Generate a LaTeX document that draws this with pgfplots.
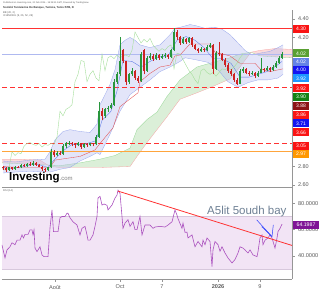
\documentclass[border=0pt]{standalone}
\usepackage{pgfplots}
\pgfplotsset{compat=1.18}
\usepackage{pgfplotstable}
\usepackage{fontspec}
\setmainfont{Liberation Sans}
\setsansfont{Liberation Sans}

\definecolor{upc}{RGB}{40,150,60}
\definecolor{dnc}{RGB}{205,35,35}
\definecolor{axisgray}{RGB}{150,150,150}
\definecolor{tickgray}{RGB}{90,90,90}
\definecolor{hred}{RGB}{255,50,50}
\definecolor{horange}{RGB}{255,165,60}
\definecolor{bbfill}{RGB}{185,190,240}
\definecolor{bbline}{RGB}{150,165,235}
\definecolor{cgreen}{RGB}{195,228,190}
\definecolor{cgreenl}{RGB}{150,215,150}
\definecolor{cred}{RGB}{250,195,195}
\definecolor{credl}{RGB}{245,165,165}
\definecolor{kijun}{RGB}{225,80,80}
\definecolor{tenkan}{RGB}{90,120,230}
\definecolor{chikou}{RGB}{165,222,155}
\definecolor{pline}{RGB}{175,185,240}
\definecolor{rsic}{RGB}{170,80,190}
\definecolor{rsiband}{RGB}{242,228,245}
\definecolor{rsiedge}{RGB}{215,200,220}
\definecolor{rsipurple}{RGB}{128,20,150}
\definecolor{annot}{RGB}{110,128,148}
\definecolor{arrowc}{RGB}{40,60,255}
\definecolor{lgreen}{RGB}{90,160,50}
\definecolor{lperi}{RGB}{100,130,230}
\definecolor{lblue}{RGB}{20,20,240}
\definecolor{lsky}{RGB}{30,150,255}
\definecolor{lred}{RGB}{250,20,20}
\definecolor{ldgreen}{RGB}{20,130,20}
\definecolor{ldred}{RGB}{140,20,20}
\definecolor{lorange}{RGB}{255,152,0}

% rising candles: x open high low close
\pgfplotstableread{
x o h l c
9 2.76 2.80 2.75 2.79
15 2.77 2.81 2.76 2.80
21 2.79 2.83 2.78 2.82
27 2.81 2.84 2.80 2.83
33 2.82 2.86 2.81 2.84
48 2.76 2.80 2.75 2.79
51 2.79 2.99 2.78 2.96
57 2.92 2.97 2.91 2.95
63 2.94 3.04 2.93 3.02
66 3.02 3.07 3.00 3.05
69 3.05 3.08 3.03 3.06
78 3.03 3.07 3.02 3.05
84 3.01 3.05 3.00 3.04
90 3.03 3.06 3.02 3.05
96 3.04 3.14 3.03 3.12
99 3.12 3.50 3.11 3.40
105 3.35 3.44 3.33 3.42
108 3.42 3.46 3.39 3.44
111 3.44 3.49 3.42 3.47
114 3.47 3.75 3.46 3.72
117 3.72 3.83 3.70 3.80
120 3.80 4.20 3.78 3.95
129 3.72 3.82 3.70 3.80
132 3.80 3.87 3.78 3.84
141 3.73 4.04 3.72 4.02
147 3.84 4.00 3.83 3.98
150 3.98 4.03 3.96 4.00
156 3.97 4.03 3.96 4.01
162 3.98 4.02 3.97 4.00
165 4.00 4.03 3.98 4.01
171 3.99 4.08 3.98 4.06
174 4.06 4.30 4.05 4.26
183 4.14 4.20 4.13 4.18
189 4.15 4.21 4.14 4.19
201 4.05 4.10 4.04 4.08
207 4.06 4.12 4.05 4.10
210 4.10 4.14 4.09 4.12
216 3.86 4.05 3.85 4.03
240 3.70 3.86 3.69 3.84
243 3.84 3.88 3.82 3.86
252 3.80 3.84 3.79 3.82
258 3.78 3.84 3.77 3.82
261 3.82 3.98 3.81 3.86
267 3.85 3.89 3.84 3.87
273 3.85 3.90 3.84 3.88
276 3.88 3.94 3.87 3.92
279 3.92 4.00 3.91 3.98
282 3.98 4.04 3.97 4.02
}\upt

% falling candles
\pgfplotstableread{
x o h l c
3 2.80 2.81 2.76 2.78
6 2.78 2.79 2.74 2.76
12 2.79 2.80 2.76 2.77
18 2.80 2.81 2.78 2.79
24 2.82 2.83 2.80 2.81
30 2.83 2.85 2.81 2.82
36 2.84 2.85 2.81 2.82
39 2.82 2.83 2.79 2.80
42 2.80 2.81 2.75 2.77
45 2.77 2.78 2.74 2.76
54 2.96 2.98 2.90 2.92
60 2.95 2.97 2.92 2.94
72 3.06 3.07 3.02 3.04
75 3.04 3.05 3.00 3.03
81 3.05 3.06 2.99 3.01
87 3.04 3.05 3.01 3.03
93 3.05 3.06 3.02 3.04
102 3.40 3.44 3.30 3.35
123 4.06 4.08 3.92 3.94
126 3.94 3.95 3.68 3.72
135 3.84 3.85 3.74 3.76
138 3.76 3.78 3.71 3.73
144 4.06 4.08 3.80 3.84
153 4.00 4.02 3.95 3.97
159 4.01 4.02 3.96 3.98
168 4.01 4.02 3.97 3.99
177 4.26 4.28 4.17 4.20
180 4.20 4.22 4.12 4.14
186 4.18 4.19 4.13 4.15
192 4.19 4.20 4.10 4.12
195 4.12 4.13 4.06 4.08
198 4.08 4.09 4.03 4.05
204 4.08 4.09 4.04 4.06
213 4.12 4.13 3.80 3.86
219 4.03 4.15 4.00 4.02
222 4.02 4.03 3.94 3.96
225 3.96 3.98 3.88 3.90
228 3.90 3.92 3.82 3.84
231 3.84 3.86 3.78 3.80
234 3.80 3.82 3.72 3.74
237 3.74 3.76 3.68 3.70
246 3.86 3.87 3.80 3.82
249 3.82 3.84 3.78 3.80
255 3.82 3.83 3.76 3.78
264 3.86 3.87 3.83 3.85
270 3.87 3.88 3.83 3.85
}\dnt

% closes in date order (for the lagging span)
\pgfplotstableread{
x c
3 2.78
6 2.76
9 2.79
12 2.77
15 2.80
18 2.79
21 2.82
24 2.81
27 2.83
30 2.82
33 2.84
36 2.82
39 2.80
42 2.77
45 2.76
48 2.79
51 2.96
54 2.92
57 2.95
60 2.94
63 3.02
66 3.05
69 3.06
72 3.04
75 3.03
78 3.05
81 3.01
84 3.04
87 3.03
90 3.05
93 3.04
96 3.12
99 3.40
102 3.35
105 3.42
108 3.44
111 3.47
114 3.72
117 3.80
120 3.95
123 3.94
126 3.72
129 3.80
132 3.84
135 3.76
138 3.73
141 4.02
144 3.84
147 3.98
150 4.00
153 3.97
156 4.01
159 3.98
162 4.00
165 4.01
168 3.99
171 4.06
174 4.26
177 4.20
180 4.14
183 4.18
186 4.15
189 4.19
192 4.12
195 4.08
198 4.05
201 4.08
204 4.06
207 4.10
210 4.12
213 3.86
216 4.03
219 4.02
222 3.96
225 3.90
228 3.84
231 3.80
234 3.74
237 3.70
240 3.84
243 3.86
246 3.82
249 3.80
252 3.82
255 3.78
258 3.82
261 3.86
264 3.85
267 3.87
270 3.85
273 3.88
276 3.92
279 3.98
282 4.02
}\closes

% dashed price levels 3.655 and 3.05, drawn as solid pieces broken by nan rows
\pgfplotstableread{
x la lb
2 3.655 3.05
7 3.655 3.05
7 nan nan
10 3.655 3.05
15 3.655 3.05
15 nan nan
18 3.655 3.05
23 3.655 3.05
23 nan nan
26 3.655 3.05
31 3.655 3.05
31 nan nan
34 3.655 3.05
39 3.655 3.05
39 nan nan
42 3.655 3.05
47 3.655 3.05
47 nan nan
50 3.655 3.05
55 3.655 3.05
55 nan nan
58 3.655 3.05
63 3.655 3.05
63 nan nan
66 3.655 3.05
71 3.655 3.05
71 nan nan
74 3.655 3.05
79 3.655 3.05
79 nan nan
82 3.655 3.05
87 3.655 3.05
87 nan nan
90 3.655 3.05
95 3.655 3.05
95 nan nan
98 3.655 3.05
103 3.655 3.05
103 nan nan
106 3.655 3.05
111 3.655 3.05
111 nan nan
114 3.655 3.05
119 3.655 3.05
119 nan nan
122 3.655 3.05
127 3.655 3.05
127 nan nan
130 3.655 3.05
135 3.655 3.05
135 nan nan
138 3.655 3.05
143 3.655 3.05
143 nan nan
146 3.655 3.05
151 3.655 3.05
151 nan nan
154 3.655 3.05
159 3.655 3.05
159 nan nan
162 3.655 3.05
167 3.655 3.05
167 nan nan
170 3.655 3.05
175 3.655 3.05
175 nan nan
178 3.655 3.05
183 3.655 3.05
183 nan nan
186 3.655 3.05
191 3.655 3.05
191 nan nan
194 3.655 3.05
199 3.655 3.05
199 nan nan
202 3.655 3.05
207 3.655 3.05
207 nan nan
210 3.655 3.05
215 3.655 3.05
215 nan nan
218 3.655 3.05
223 3.655 3.05
223 nan nan
226 3.655 3.05
231 3.655 3.05
231 nan nan
234 3.655 3.05
239 3.655 3.05
239 nan nan
242 3.655 3.05
247 3.655 3.05
247 nan nan
250 3.655 3.05
255 3.655 3.05
255 nan nan
258 3.655 3.05
263 3.655 3.05
263 nan nan
266 3.655 3.05
271 3.655 3.05
271 nan nan
274 3.655 3.05
279 3.655 3.05
279 nan nan
282 3.655 3.05
287 3.655 3.05
287 nan nan
290 3.655 3.05
292 3.655 3.05
}\dashx

\pgfplotstablegetrowsof{\upt}\pgfmathtruncatemacro{\nup}{\pgfplotsretval-1}
\pgfplotstablegetrowsof{\dnt}\pgfmathtruncatemacro{\ndn}{\pgfplotsretval-1}

\begin{document}
\begin{tikzpicture}
\useasboundingbox (0pt,0pt) rectangle (320pt,-290pt);

% ---------------- price panel ----------------
\begin{axis}[
  at={(2pt,-10pt)}, anchor=north west,
  scale only axis, width=290pt, height=177pt,
  xmin=2, xmax=292, ymin=2.578, ymax=4.498,
  axis x line*=bottom, axis y line*=right,
  x axis line style={draw=none},
  y axis line style={draw=axisgray, line width=0.5pt},
  xtick=\empty,
  ytick={2.6,2.8,4.2,4.4},
  /pgf/number format/assume math mode=true,
  yticklabel style={font=\fontsize{5.5}{6}\selectfont, text=tickgray,
    /pgf/number format/fixed, /pgf/number format/fixed zerofill, /pgf/number format/precision=2},
  tick style={draw=axisgray, line width=0.4pt},
  major tick length=2.5pt, tick align=outside,
]
% Ichimoku cloud fills (span A forward, span B back)
\addplot[fill=cred, fill opacity=0.6, draw=none, forget plot] coordinates {
(2,2.84) (20,2.83) (40,2.82) (47,2.818) (47,2.821) (40,2.87) (20,2.88) (2,2.88)};
\addplot[fill=cgreen, fill opacity=0.6, draw=none, forget plot] coordinates {
(47,2.818) (60,2.81) (80,2.84) (100,2.88) (115,2.92) (130,3.00)
(137,3.20) (147,3.31) (157,3.39) (167,3.56) (180,3.74) (197,3.88) (213,3.93)
(230,3.98) (240,4.02) (251,4.04)
(240,3.88) (230,3.75) (213,3.67) (197,3.60) (180,3.53) (167,3.34) (157,3.20)
(147,3.06) (137,2.91) (130,2.80) (100,2.79) (60,2.79) (50,2.80) (47,2.821)};
\addplot[fill=cred, fill opacity=0.6, draw=none, forget plot] coordinates {
(251,4.04) (260,4.00) (275,3.99) (292,3.98) (292,4.07) (275,4.08) (260,4.06)};
% span lines
\addplot[cgreenl, line width=0.3pt] coordinates {
(2,2.84) (20,2.83) (40,2.82) (60,2.81) (80,2.84) (100,2.88) (115,2.92) (130,3.00)
(137,3.20) (147,3.31) (157,3.39) (167,3.56) (180,3.74) (197,3.88) (213,3.93)
(230,3.98) (240,4.02) (251,4.04) (260,4.00) (275,3.99) (292,3.98)};
\addplot[credl, line width=0.3pt] coordinates {
(2,2.88) (20,2.88) (40,2.87) (50,2.80) (60,2.79) (100,2.79) (130,2.80)
(137,2.91) (147,3.06) (157,3.20) (167,3.34) (180,3.53) (197,3.60) (213,3.67)
(230,3.75) (240,3.88) (251,4.04) (260,4.06) (275,4.08) (292,4.07)};
% Bollinger band fill (upper forward, lower back)
\addplot[fill=bbfill, fill opacity=0.4, draw=none, forget plot] coordinates {
(3,2.86) (15,2.85) (30,2.87) (45,2.88) (50,2.96) (55,3.09) (63,3.18) (70,3.20)
(80,3.18) (90,3.17) (97,3.26) (100,3.47) (105,3.58) (110,3.69) (115,3.85)
(120,4.12) (125,4.17) (130,4.20) (135,4.17) (140,4.12) (150,4.09) (160,4.12)
(170,4.23) (175,4.30) (180,4.31) (190,4.34) (195,4.33) (205,4.30) (215,4.31)
(222,4.29) (230,4.23) (238,4.14) (245,4.06) (252,4.01) (260,4.03) (270,4.05)
(278,4.09) (283,4.12)
(283,3.80) (278,3.76) (268,3.74) (258,3.74) (248,3.71) (238,3.66) (228,3.72)
(218,3.85) (208,3.93) (195,3.96) (185,3.98) (180,3.94) (170,3.88) (160,3.83)
(150,3.74) (140,3.66) (130,3.58) (120,3.40) (110,3.15) (100,2.93) (97,2.95)
(90,2.91) (80,2.86) (70,2.79) (60,2.77) (50,2.74) (45,2.74) (30,2.75) (15,2.74) (3,2.73)};
\addplot[bbline, line width=0.3pt] coordinates {
(3,2.86) (15,2.85) (30,2.87) (45,2.88) (50,2.96) (55,3.09) (63,3.18) (70,3.20)
(80,3.18) (90,3.17) (97,3.26) (100,3.47) (105,3.58) (110,3.69) (115,3.85)
(120,4.12) (125,4.17) (130,4.20) (135,4.17) (140,4.12) (150,4.09) (160,4.12)
(170,4.23) (175,4.30) (180,4.31) (190,4.34) (195,4.33) (205,4.30) (215,4.31)
(222,4.29) (230,4.23) (238,4.14) (245,4.06) (252,4.01) (260,4.03) (270,4.05)
(278,4.09) (283,4.12)};
\addplot[bbline, line width=0.3pt] coordinates {
(3,2.73) (15,2.74) (30,2.75) (45,2.74) (50,2.74) (60,2.77) (70,2.79) (80,2.86)
(90,2.91) (97,2.95) (100,2.93) (110,3.15) (120,3.40) (130,3.58) (140,3.66)
(150,3.74) (160,3.83) (170,3.88) (180,3.94) (185,3.98) (195,3.96) (208,3.93)
(218,3.85) (228,3.72) (238,3.66) (248,3.71) (258,3.74) (268,3.74) (278,3.76)
(283,3.80)};
% horizontal levels
\addplot[color=pline, line width=0.4pt] coordinates {(2,4.02) (292,4.02)};
\addplot[color=hred, line width=0.7pt] coordinates {(2,4.30) (292,4.30)};
\addplot[color=hred, line width=0.7pt, unbounded coords=jump] table[x=x, y=la] {\dashx};
\addplot[color=hred, line width=0.7pt, unbounded coords=jump] table[x=x, y=lb] {\dashx};
\addplot[color=horange, line width=0.8pt] coordinates {(2,2.96) (292,2.96)};
% kijun / tenkan / chikou
\addplot[kijun, line width=0.35pt] coordinates {
(3,2.80) (20,2.79) (50,2.79) (55,2.87) (80,2.91) (95,2.98) (100,3.05) (113,3.22)
(120,3.45) (138,3.60) (140,3.72) (150,3.81) (160,3.88) (170,3.90) (175,4.0)
(180,4.01) (185,4.07) (190,4.13) (210,4.13) (215,4.04) (230,4.0) (240,3.92)
(255,3.92) (260,3.86) (270,3.83) (283,3.86)};
\addplot[tenkan, line width=0.35pt] coordinates {
(3,2.79) (12,2.78) (24,2.80) (36,2.83) (48,2.79) (54,2.87) (63,2.97) (72,3.04)
(84,3.04) (96,3.08) (102,3.30) (111,3.40) (117,3.62) (123,3.95) (132,3.94)
(141,3.88) (150,3.94) (159,3.99) (168,4.00) (177,4.17) (186,4.21) (195,4.17)
(204,4.09) (213,3.97) (222,3.97) (231,3.92) (240,3.77) (249,3.77) (258,3.80)
(267,3.83) (276,3.89) (282,3.94)};
\addplot[chikou, line width=0.4pt] table[x expr=\thisrow{x}-39, y=c] {\closes};
% candles
\pgfplotsinvokeforeach{0,...,\nup}{
  \pgfplotstablegetelem{#1}{x}\of{\upt}\edef\cX{\pgfplotsretval}
  \pgfplotstablegetelem{#1}{o}\of{\upt}\edef\cO{\pgfplotsretval}
  \pgfplotstablegetelem{#1}{h}\of{\upt}\edef\cH{\pgfplotsretval}
  \pgfplotstablegetelem{#1}{l}\of{\upt}\edef\cL{\pgfplotsretval}
  \pgfplotstablegetelem{#1}{c}\of{\upt}\edef\cC{\pgfplotsretval}
  \addplot[upc, line width=0.35pt, forget plot] coordinates {(\cX,\cL) (\cX,\cH)};
  \addplot[upc, line width=1.7pt, forget plot] coordinates {(\cX,\cO) (\cX,\cC)};
}
\pgfplotsinvokeforeach{0,...,\ndn}{
  \pgfplotstablegetelem{#1}{x}\of{\dnt}\edef\cX{\pgfplotsretval}
  \pgfplotstablegetelem{#1}{o}\of{\dnt}\edef\cO{\pgfplotsretval}
  \pgfplotstablegetelem{#1}{h}\of{\dnt}\edef\cH{\pgfplotsretval}
  \pgfplotstablegetelem{#1}{l}\of{\dnt}\edef\cL{\pgfplotsretval}
  \pgfplotstablegetelem{#1}{c}\of{\dnt}\edef\cC{\pgfplotsretval}
  \addplot[dnc, line width=0.35pt, forget plot] coordinates {(\cX,\cL) (\cX,\cH)};
  \addplot[dnc, line width=1.7pt, forget plot] coordinates {(\cX,\cO) (\cX,\cC)};
}
\end{axis}

% ---------------- RSI panel ----------------
\begin{axis}[
  at={(2pt,-187pt)}, anchor=north west,
  scale only axis, width=290pt, height=92pt,
  xmin=2, xmax=292, ymin=22.5, ymax=92.4,
  axis x line*=bottom, axis y line*=right,
  axis line style={draw=axisgray, line width=0.5pt},
  xtick={55,120,162,218,260},
  xticklabels={Août,Oct,7,\textbf{2026},9},
  ytick={40,60,80},
  /pgf/number format/assume math mode=true,
  yticklabel style={font=\fontsize{5.6}{6}\selectfont, text=tickgray,
    /pgf/number format/fixed, /pgf/number format/fixed zerofill, /pgf/number format/precision=4},
  xticklabel style={font=\fontsize{5.6}{6}\selectfont, text=tickgray},
  tick style={draw=axisgray, line width=0.4pt},
  major tick length=2.5pt, tick align=outside,
]
\addplot[fill=rsiband, draw=none] coordinates {(2,30) (292,30) (292,70) (2,70)};
\addplot[color=rsiedge, line width=0.3pt] coordinates {(2,70) (292,70)};
\addplot[color=rsiedge, line width=0.3pt] coordinates {(2,30) (292,30)};
\addplot[rsic, line width=0.6pt] coordinates {
(2,48.4) (5,38.5) (7,44.6) (10,47) (12,50) (15,48.6) (17,52) (20,52) (22,56)
(23.5,53.7) (25,56.4) (28,56.4) (30,59.8) (32,59.8) (33,56) (34,59.8) (35,46)
(37,43.3) (40,47) (42,40.8) (44,39.5) (48,39.5) (50,61.3) (52,75) (53.5,58.5)
(58,58.5) (60,69) (62,70) (65,70) (67,72.5) (68,72.5) (70,69) (73,66) (77,63.5)
(80,56) (82,61) (85,62.5) (87,56) (88,52) (90,52) (93,56) (95,62.5) (97,70)
(98,84) (100,85.3) (102,78.7) (104,79.5) (107,78.5) (108,75) (112,78.7) (115,84)
(117,86.3) (118,90) (120,87.6) (122,70) (123,61) (125,65) (128,67.6) (130,62.5)
(133,66) (135,60) (137,60) (140,70) (142,56) (145,63.5) (150,63.5) (153,61)
(155,62) (160,62.5) (165,62) (168,63.5) (172,66) (175,75) (177,71) (178,68.4)
(182,61) (183,65) (185,58) (187,58) (188,53.7) (192,56) (195,47) (198,51)
(202,47) (203,52) (205,48.6) (207,53.7) (210,51) (212,32) (213,44.6) (215,51)
(218,48.6) (220,43.6) (222,47) (225,42.3) (228,38.5) (232,34.7) (235,37.3)
(238,42.3) (240,47) (243,46) (245,44.6) (248,42.3) (250,44.6) (253,40.8)
(257,39.5) (258,43.3) (260,53.7) (262,56) (263,48.6) (265,52) (268,53.7)
(270,56) (272,53.7) (275,46) (277,53.7) (278,58.5) (280,61) (282,64.2)};
\addplot[color=hred, line width=0.8pt] coordinates {(118,89.3) (292,48.0)};
\draw[arrowc, line width=0.5pt] (axis cs:256.7,67.4) -- (axis cs:272,54.7);
\draw[arrowc, line width=0.5pt] (axis cs:261.7,62.3) -- (axis cs:272,54.7);
\draw[arrowc, line width=0.5pt] (axis cs:273.3,63.6) -- (axis cs:272,54.7);
\end{axis}

% separator line
\draw[axisgray, line width=0.5pt] (2pt,-187pt) -- (292pt,-187pt);

% header texts
\node[anchor=west, inner sep=0, font=\fontsize{2.3}{3}\selectfont, text=tickgray] at (3pt,-3pt)
  {Published on Investing.com, 20 Feb 2026 - 18:28:11 GMT, Powered by TradingView.};
\node[anchor=west, inner sep=0, font=\fontsize{2.8}{3}\selectfont\bfseries, text=black!80] at (3pt,-7.5pt)
  {Société Tunisienne De Banque, Tunisia, Tunis:STB, D};
\node[anchor=west, inner sep=0, font=\fontsize{2.6}{3}\selectfont, text=tickgray] at (3pt,-12.5pt) {BB (20, 2)};
\node[anchor=west, inner sep=0, font=\fontsize{2.6}{3}\selectfont, text=tickgray] at (3pt,-15.8pt) {ICHIMOKU (9, 26, 52, 26)};
\node[anchor=west, inner sep=0, font=\fontsize{2.6}{3}\selectfont, text=tickgray] at (3pt,-190.5pt) {RSI (14)};

% logo
\node[anchor=base west, inner sep=0, font=\fontsize{11.5}{12}\selectfont\bfseries, text=black] at (9pt,-180pt)
  {Investing{\fontsize{6}{6}\selectfont\mdseries\color{gray}.com}};

% annotation
\node[anchor=base west, inner sep=0, font=\fontsize{11.5}{12}\selectfont, text=annot] at (207pt,-214pt) {A5lit 5oudh bay};

% price labels
\foreach \yy/\lc/\lab in {29/lred/4.30, 53.3/lgreen/4.02, 61.7/lperi/4.02, 70/lblue/4.00,
  78.3/lsky/3.92, 88.3/lred/3.92, 96.7/ldgreen/3.90, 106/ldred/3.88, 115/lred/3.86,
  123.3/lblue/3.71, 132.3/lred/3.66, 145.7/lred/3.05, 154/lorange/2.97}{
  \node[fill=\lc, text=white, font=\fontsize{5}{5}\selectfont, inner sep=0,
        minimum width=16pt, minimum height=8pt] at (301pt,-\yy pt) {\lab};
}
\node[fill=rsipurple, text=white, font=\fontsize{5.2}{5}\selectfont, inner sep=0,
      minimum width=26pt, minimum height=8pt] at (306pt,-225pt) {64.1987};
\end{tikzpicture}
\end{document}
